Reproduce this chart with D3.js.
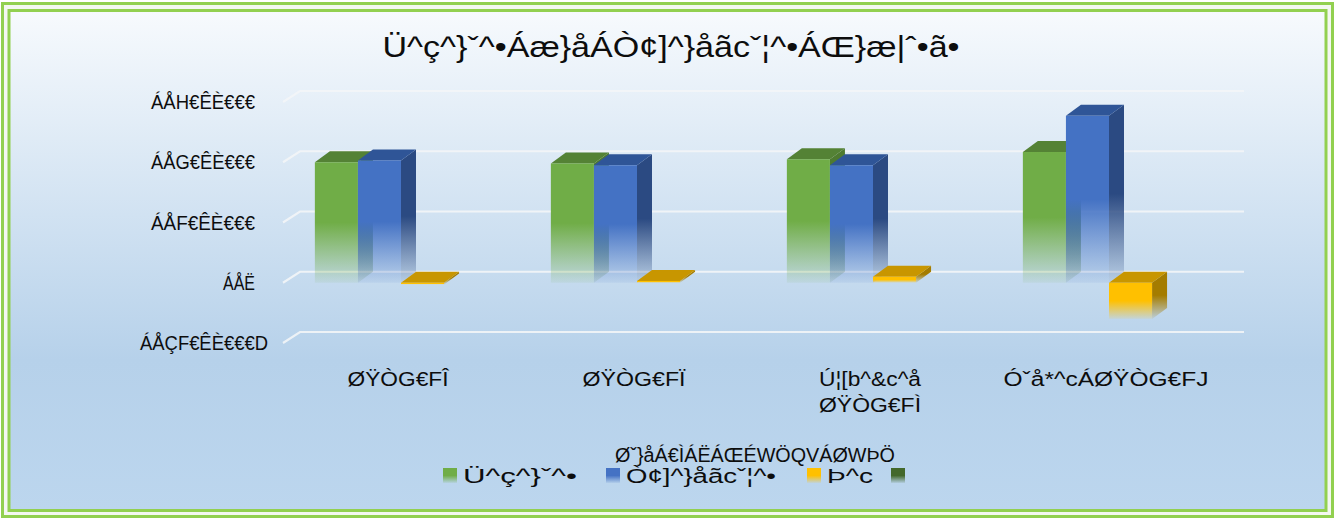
<!DOCTYPE html>
<html><head><meta charset="utf-8">
<script src="https://cdn.jsdelivr.net/npm/d3@7"></script>
<style>html,body{margin:0;padding:0;background:#fff;}svg{display:block;}text{font-family:"Liberation Sans",Arial,sans-serif;fill:#0d0d0d;}</style>
</head><body>
<script>
const titleText = "Ü^ç^}ˇ^•Áæ}åÁÒ¢]^}åãcˇ¦^•ÁŒ}æ|ˆ•ã•";
const axisTitle = "Øˇ}åÁ€ÌÁËÁŒÉWÖQVÁØWÞÖ";
const categories = [["ØŸÒG€FÎ"], ["ØŸÒG€FÏ"], ["Ú¦[b^&c^å", "ØŸÒG€FÌ"], ["Óˇå*^cÁØŸÒG€FJ"]];
const seriesNames = ["Ü^ç^}ˇ^•", "Ò¢]^}åãcˇ¦^•", "Þ^c", ""];
const revenues = [2000000, 1980000, 2050000, 2170000];
const expenditures = [2030000, 1950000, 1950000, 2770000];
const net = [-30000, 30000, 100000, -600000];
const extra = [null, null, null, null];
const tickValues = [-1000000, 0, 1000000, 2000000, 3000000];
const tickLabels = ["ÁÅÇF€ÊÈ€€€D", "ÁÅË", "ÁÅF€ÊÈ€€€", "ÁÅG€ÊÈ€€€", "ÁÅH€ÊÈ€€€"];

// layout (rendered text widths in the reference)
const tickW = [128, 32, 104, 104, 104];
const catW = [[101], [103], [102, 102], [205]];
const legW = [114, 150, 46, 0];

const W = 1335, H = 519;
const svg = d3.select("body").append("svg").attr("width", W).attr("height", H);
const defs = svg.append("defs");

const bg = defs.append("linearGradient").attr("id","bg").attr("x1",0).attr("y1",0).attr("x2",0).attr("y2",1);
bg.append("stop").attr("offset","0%").attr("stop-color","#f7fafd");
bg.append("stop").attr("offset","70%").attr("stop-color","#b6d1ea");
bg.append("stop").attr("offset","100%").attr("stop-color","#bcd6ee");

const colors = [
  {front:"#70ad47", top:"#548235", side:"#4e7a30"},
  {front:"#4472c4", top:"#2f5597", side:"#2b4a82"},
  {front:"#ffc000", top:"#c89600", side:"#a47c00"},
  {front:"#43682b", top:"#43682b", side:"#43682b"}
];
colors.forEach((c,i)=>{
  ["front","side"].forEach(k=>{
    const g = defs.append("linearGradient").attr("id",`g${i}${k}`).attr("x1",0).attr("y1",0).attr("x2",0).attr("y2",1);
    g.append("stop").attr("offset","0%").attr("stop-color",c[k]).attr("stop-opacity",1);
    g.append("stop").attr("offset","50%").attr("stop-color",c[k]).attr("stop-opacity",1);
    g.append("stop").attr("offset","100%").attr("stop-color",c[k]).attr("stop-opacity",0.08);
  });
});

// frame
svg.append("rect").attr("x",2.5).attr("y",3.5).attr("width",1330).attr("height",513).attr("fill","#f4f7f1").attr("stroke","#92d050").attr("stroke-width",3);
svg.append("rect").attr("x",9).attr("y",10.5).attr("width",1317).attr("height",500).attr("fill","url(#bg)").attr("stroke","#92d050").attr("stroke-width",3);

const y = d3.scaleLinear().domain([-1000000, 3000000]).range([343, 102]);
const x0 = d3.scaleBand().domain(d3.range(categories.length)).range([283, 1227]).padding(0);
const groupW = x0.bandwidth() * 0.73;
const x1 = d3.scaleBand().domain(d3.range(seriesNames.length)).range([0, groupW]).padding(0);
const gOff = (x0.bandwidth() - groupW) / 2;
const DX = 15, DY = -11, WDX = 17;

// gridlines
const grid = svg.append("g");
tickValues.forEach(v=>{
  const yy = y(v);
  grid.append("path").attr("d", `M${283},${yy} L${283+WDX},${yy+DY} L${1244},${yy+DY}`)
    .attr("fill","none").attr("stroke","#f3f5f7").attr("stroke-opacity",0.9).attr("stroke-width",2.2);
});

// tick labels
svg.append("g").selectAll("text").data(tickValues).join("text")
  .attr("x", d => d < 0 ? 268 : 255)
  .attr("y", d => y(d) + 7)
  .attr("text-anchor","end")
  .attr("font-size", 20)
  .attr("textLength", (d,i) => tickW[i])
  .attr("lengthAdjust","spacingAndGlyphs")
  .text((d,i) => tickLabels[i]);

// bars
const seriesData = [revenues, expenditures, net, extra];
const bars = svg.append("g");
categories.forEach((c, ci) => {
  seriesData.forEach((s, si) => {
    const v = s[ci];
    if (v == null) return;
    const xl = x0(ci) + gOff + x1(si);
    const bw = x1.bandwidth();
    const yTop = y(Math.max(0, v)), yBot = y(Math.min(0, v));
    bars.append("path")
      .attr("d", `M${xl+bw},${yTop} L${xl+bw+DX},${yTop+DY} L${xl+bw+DX},${yBot+DY} L${xl+bw},${yBot} Z`)
      .attr("fill", `url(#g${si}side)`);
    bars.append("path")
      .attr("d", `M${xl},${yTop} L${xl+DX},${yTop+DY} L${xl+bw+DX},${yTop+DY} L${xl+bw},${yTop} Z`)
      .attr("fill", colors[si].top);
    bars.append("rect").attr("x", xl).attr("y", yTop).attr("width", bw).attr("height", Math.max(0.5, yBot - yTop))
      .attr("fill", `url(#g${si}front)`);
  });
});

// category labels
const cl = svg.append("g");
categories.forEach((lines, ci) => {
  const t = cl.append("text").attr("text-anchor","middle").attr("font-size",20);
  lines.forEach((ln, li) => {
    t.append("tspan").attr("x", x0(ci) + x0.bandwidth()/2 - 3).attr("y", 386 + li*26)
      .attr("textLength", catW[ci][li]).attr("lengthAdjust","spacingAndGlyphs").text(ln);
  });
});

// title
svg.append("text").attr("x", 671).attr("y", 57).attr("text-anchor","middle")
  .attr("font-size", 29).attr("textLength", 577).attr("lengthAdjust","spacingAndGlyphs").text(titleText);

// axis title
svg.append("text").attr("x", 755).attr("y", 462).attr("text-anchor","middle")
  .attr("font-size", 20).attr("textLength", 280).attr("lengthAdjust","spacingAndGlyphs").text(axisTitle);

// legend
const legX = [443, 606, 807, 891];
const leg = svg.append("g");
seriesNames.forEach((n, i) => {
  leg.append("rect").attr("x", legX[i]).attr("y", 468).attr("width", 14).attr("height", 15)
    .attr("fill", `url(#g${i}front)`);
  if (n) leg.append("text").attr("x", legX[i] + 20).attr("y", 483).attr("font-size", 20)
    .attr("textLength", legW[i]).attr("lengthAdjust","spacingAndGlyphs").text(n);
});
</script>
</body></html>
